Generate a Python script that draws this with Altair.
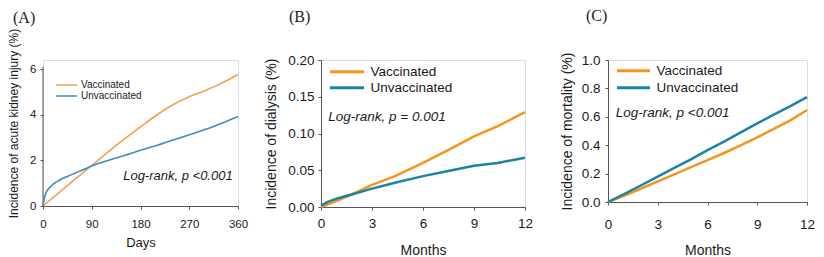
import altair as alt
import pandas as pd

# ---------------- data ----------------
series_names = ["Vaccinated", "Unvaccinated"]

# Panel A: acute kidney injury (days)
a_days_vacc = [0, 45, 90, 135, 180, 210, 240, 270, 300, 330, 360]
a_vals_vacc = [0, 0.90, 1.78, 2.66, 3.48, 4.00, 4.45, 4.80, 5.08, 5.40, 5.78]
a_days_unvacc = [0, 2, 5, 10, 20, 30, 45, 60, 75, 90, 120, 150, 180, 210, 240, 270, 300, 330, 360]
a_vals_unvacc = [0, 0.30, 0.55, 0.75, 0.98, 1.13, 1.30, 1.45, 1.60, 1.76, 2.00, 2.22, 2.45, 2.66, 2.90, 3.13, 3.37, 3.64, 3.93]

# Panel B: dialysis (months)
b_months_vacc = [0, 1, 1.8, 3, 4.35, 6, 7.7, 9, 10.4, 12]
b_vals_vacc = [0, 0.009, 0.017, 0.030, 0.042, 0.060, 0.080, 0.096, 0.110, 0.129]
b_months_unvacc = [0, 0.4, 1, 1.8, 3, 4.35, 6, 7.7, 9, 10.4, 12]
b_vals_unvacc = [0.002, 0.007, 0.012, 0.017, 0.025, 0.033, 0.042, 0.050, 0.056, 0.060, 0.067]

# Panel C: mortality (months)
c_months = [0, 1, 2, 3, 4, 5, 6, 7, 8, 9, 10, 11, 12]
c_vals_vacc = [0, 0.045, 0.095, 0.145, 0.195, 0.245, 0.295, 0.345, 0.398, 0.455, 0.515, 0.575, 0.648]
c_vals_unvacc = [0, 0.058, 0.118, 0.178, 0.240, 0.300, 0.365, 0.425, 0.490, 0.553, 0.615, 0.675, 0.738]

a_xticks = [0, 90, 180, 270, 360]
a_yticks = [0, 2, 4, 6]
b_xticks = [0, 3, 6, 9, 12]
b_yticks = [0, 0.05, 0.10, 0.15, 0.20]
c_xticks = [0, 3, 6, 9, 12]
c_yticks = [0, 0.2, 0.4, 0.6, 0.8, 1.0]

logrank_a = "Log-rank, p <0.001"
logrank_b = "Log-rank, p = 0.001"
logrank_c = "Log-rank, p <0.001"


def frame(xs_v, ys_v, xs_u, ys_u):
    rows = [{"x": x, "y": y, "group": series_names[0]} for x, y in zip(xs_v, ys_v)]
    rows += [{"x": x, "y": y, "group": series_names[1]} for x, y in zip(xs_u, ys_u)]
    return pd.DataFrame(rows)


df_a = frame(a_days_vacc, a_vals_vacc, a_days_unvacc, a_vals_unvacc)
df_b = frame(b_months_vacc, b_vals_vacc, b_months_unvacc, b_vals_unvacc)
df_c = frame(c_months, c_vals_vacc, c_months, c_vals_unvacc)

SANS = "Liberation Sans"
SERIF = "Liberation Serif"
AXIS_GRAY = "#555555"
TEXT = "#1a1a1a"


def panel(df, label, width, height, xdom, ydom, xticks, yticks, yfmt, xtitle, ytitle,
          colors, sw, fs_tick, fs_title, fs_leg, leg, ytitle_pad, ylab_pad, xlab_pad, xtitle_pad,
          lr_text, lr_x, lr_y, lr_fs, title_dx, title_off, interp, y_domain_line=True, ytitle_y=None,
          fs_xtitle=None):
    yaxis_kwargs = dict(values=yticks, format=yfmt, title=ytitle, titleFontSize=fs_title,
                        titleFontWeight="normal", labelFontSize=fs_tick, tickSize=3,
                        labelPadding=ylab_pad, titlePadding=ytitle_pad, domain=y_domain_line,
                        grid=False, domainColor=AXIS_GRAY, tickColor=AXIS_GRAY,
                        labelColor=TEXT, titleColor=TEXT, labelFont=SANS, titleFont=SANS,
                        labelOverlap=False)
    if ytitle_y is not None:
        yaxis_kwargs["titleY"] = ytitle_y
    xaxis = alt.Axis(values=xticks, title=xtitle, titleFontSize=fs_xtitle or fs_title,
                     titleFontWeight="normal", labelFontSize=fs_tick, tickSize=3,
                     labelPadding=xlab_pad, titlePadding=xtitle_pad, grid=False,
                     domainColor=AXIS_GRAY, tickColor=AXIS_GRAY, labelColor=TEXT,
                     titleColor=TEXT, labelFont=SANS, titleFont=SANS, labelFlush=False,
                     labelOverlap=False)
    yaxis = alt.Axis(**yaxis_kwargs)
    xscale = alt.Scale(domain=xdom, nice=False, zero=False)
    yscale = alt.Scale(domain=ydom, nice=False)
    x = alt.X("x:Q", scale=xscale, axis=xaxis)
    y = alt.Y("y:Q", scale=yscale, axis=yaxis)
    color = alt.Color("group:N", scale=alt.Scale(domain=series_names, range=colors),
                      legend=alt.Legend(title=None, orient="none", legendX=leg["x"], legendY=leg["y"],
                                        symbolType="stroke", symbolSize=leg["size"],
                                        symbolStrokeWidth=leg["sw"], labelFontSize=fs_leg,
                                        labelFont=SANS, labelColor=TEXT, clipHeight=leg["h"],
                                        rowPadding=0, labelOffset=leg["off"], padding=0,
                                        symbolOffset=0))
    lines = alt.Chart(df).mark_line(strokeWidth=sw, interpolate=interp).encode(x=x, y=y, color=color)
    one = pd.DataFrame({"label": [lr_text], "x": [lr_x], "y": [lr_y]})
    txt = alt.Chart(one).mark_text(align="left", baseline="middle", fontStyle="italic",
                                   fontSize=lr_fs, font=SANS, color=TEXT).encode(
        text="label:N", x=x, y=y)
    layers = [lines, txt]
    if not y_domain_line:
        ax = pd.DataFrame({"y": [ydom[0]], "y2": [ydom[1] * 0.955]})
        rule = alt.Chart(ax).mark_rule(color=AXIS_GRAY, strokeWidth=1).encode(
            x=alt.value(0), y=y, y2="y2:Q")
        layers.insert(0, rule)
    return alt.layer(*layers).properties(
        width=width, height=height,
        title=alt.TitleParams(label, anchor="start", frame="group", font=SERIF, fontSize=16,
                              fontWeight="normal", color=TEXT, dx=title_dx, offset=title_off))


pa = panel(df_a, "(A)", 195, 146, [0, 360], [0, 6.417], a_xticks, a_yticks, "d", "Days",
           "Incidence of acute kidney injury (%)", ["#F4A04C", "#3A8FC0"], 1.6, 11.5, 12, 10,
           dict(x=12, y=19.5, size=441, sw=1.6, h=11, off=3), 9, 4, 9, 6.5,
           logrank_a, 148, 1.32, 13, -30, 2, "monotone", y_domain_line=False, ytitle_y=63,
           fs_xtitle=13)
pb = panel(df_b, "(B)", 204, 147, [0, 12], [0, 0.2], b_xticks, b_yticks, ".2f", "Months",
           "Incidence of dialysis (%)", ["#F7941D", "#1B84A6"], 2.5, 13.5, 14, 13.5,
           dict(x=7.5, y=4, size=1156, sw=3, h=15.4, off=5), 9.5, 4, 6.5, 13.8,
           logrank_b, 0.43, 0.1228, 13.5, -32, 28, "linear")
pc = panel(df_c, "(C)", 199, 142, [0, 12], [0, 1.0], c_xticks, c_yticks, ".1f", "Months",
           "Incidence of mortality (%)", ["#F7941D", "#1B84A6"], 2.5, 13.5, 14, 13.5,
           dict(x=7.5, y=2.5, size=1089, sw=3, h=16.3, off=5), 6.5, 5, 12.5, 12,
           logrank_c, 0.47, 0.63, 13.5, -22, 28, "linear")

chart = alt.hconcat(pa, pb, pc, spacing=83, bounds="flush").resolve_scale(
    color="independent", x="independent", y="independent").resolve_legend(
    color="independent").properties(padding={"left": -1, "top": -1, "right": -1, "bottom": 0}
).configure_view(stroke=None).configure(font=SANS, background="white")

chart.save("out.html", embed_options={"renderer": "svg", "actions": False})
